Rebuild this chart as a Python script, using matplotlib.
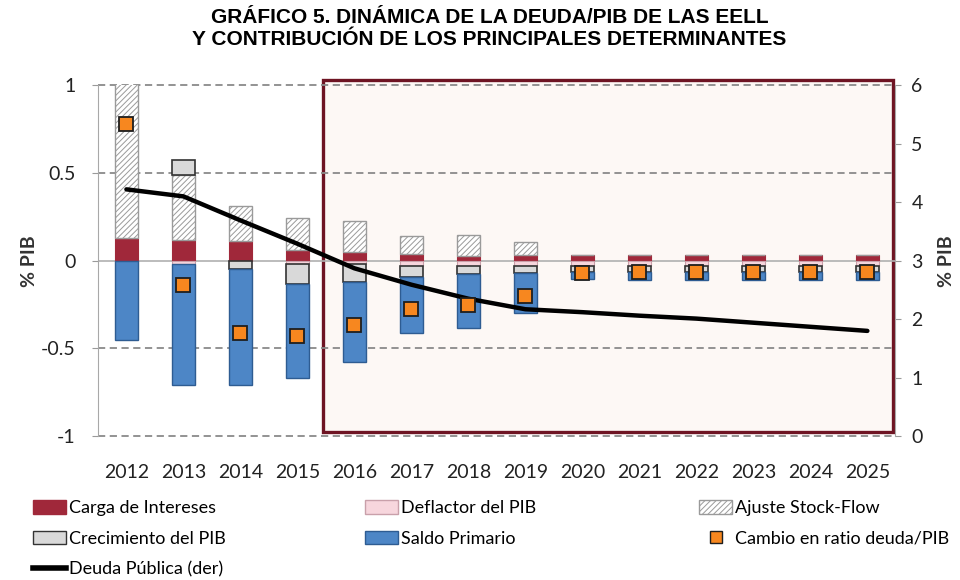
import numpy as np
import matplotlib
matplotlib.use('Agg')
from matplotlib import pyplot as plt
from matplotlib.patches import Patch, Rectangle
from matplotlib.lines import Line2D

YEARS = list(range(2012, 2026))
INTERESES = [0.13, 0.12, 0.11, 0.06, 0.05, 0.04, 0.025, 0.03, 0.035, 0.035, 0.035, 0.035, 0.035, 0.035]
DEFLACTOR = [0.0, -0.02, 0.0, -0.02, -0.02, -0.03, -0.03, -0.03, -0.03, -0.03, -0.03, -0.03, -0.03, -0.03]
STOCK_FLOW = [0.95, 0.37, 0.20, 0.185, 0.175, 0.10, 0.123, 0.077, 0, 0, 0, 0, 0, 0]
CRECIMIENTO = [0.0, 0.085, -0.05, -0.115, -0.10, -0.06, -0.045, -0.04, -0.035, -0.035, -0.035, -0.035, -0.035, -0.035]
SALDO = [-0.45, -0.69, -0.66, -0.535, -0.46, -0.32, -0.31, -0.23, -0.04, -0.045, -0.045, -0.045, -0.045, -0.045]
CAMBIO = [0.78, -0.14, -0.41, -0.43, -0.365, -0.275, -0.255, -0.20, -0.07, -0.063, -0.063, -0.063, -0.063, -0.063]
DEUDA = [4.22, 4.10, 3.69, 3.29, 2.87, 2.59, 2.35, 2.17, 2.12, 2.06, 2.01, 1.94, 1.87, 1.80]

TICK_FONT = 'Lato'
plt.rcParams['font.family'] = [TICK_FONT, 'DejaVu Sans']
plt.rcParams['hatch.linewidth'] = 0.7

fig = plt.figure(figsize=(9.6, 5.8), dpi=100)
ax = fig.add_axes([0.102, 0.248, 0.830, 0.605])
ax2 = ax.twinx()

x = np.array(YEARS, dtype=float)
width = 0.41

# shaded projection box
ax.add_patch(Rectangle((2015.45, -0.975), 10.0, 2.005, facecolor='#FDF8F5',
                       edgecolor='#6E1423', linewidth=2.4, zorder=0.5, clip_on=False))

for yv in [1, 0.5, -0.5, -1]:
    ax.axhline(yv, color='#8A8A8A', linestyle=(0, (4, 2.5)), linewidth=1.3, zorder=1, clip_on=False)
ax.axhline(0, color='#B0B0B0', linewidth=1.2, zorder=1)

series = [
    (INTERESES, dict(facecolor='#A0283A', edgecolor='#A0283A', linewidth=0.8)),
    (DEFLACTOR, dict(facecolor='#F7D6DD', edgecolor='#C9A0AA', linewidth=0.8)),
    (STOCK_FLOW, dict(facecolor='white', edgecolor='#9A9A9A', hatch='//////', linewidth=1.0)),
    (CRECIMIENTO, dict(facecolor='#D9D9D9', edgecolor='#333333', linewidth=1.2)),
    (SALDO, dict(facecolor='#4D86C6', edgecolor='#2E5C92', linewidth=1.0)),
]
pos = np.zeros(len(x))
neg = np.zeros(len(x))
for vals, style in series:
    v = np.array(vals)
    base = np.where(v >= 0, pos, neg)
    ax.bar(x, v, width, bottom=base, zorder=2, **style)
    pos = pos + np.clip(v, 0, None)
    neg = neg + np.clip(v, None, 0)

ax2.plot(x, DEUDA, color='black', linewidth=3.2, solid_capstyle='round', zorder=3)
ax2.plot(x, CAMBIO, linestyle='none', marker='s', markersize=9.5, markerfacecolor='#F7871F',
         markeredgecolor='#1E1E1E', markeredgewidth=1.3, transform=ax.transData, zorder=4)

ax.set_xlim(2011.5, 2025.48)
ax.set_ylim(-1, 1)
ax2.set_ylim(0, 6)

ax.set_xticks(x)
ax.set_xticklabels([str(y) for y in YEARS])
ax.set_yticks([-1, -0.5, 0, 0.5, 1])
ax.set_yticklabels(['-1', '-0.5', '0', '0.5', '1'])
ax2.set_yticks(range(7))

ax.tick_params(axis='x', length=0, pad=20, labelsize=14, labelcolor='#222222')
ax.tick_params(axis='y', length=4, color='#9A9A9A', pad=12, labelsize=14, labelcolor='#222222')
ax2.tick_params(axis='y', length=4, color='#9A9A9A', pad=8, labelsize=14, labelcolor='#222222')

for a in (ax, ax2):
    for s in a.spines.values():
        s.set_visible(False)
ax.spines['left'].set_visible(True)
ax.spines['left'].set_color('#A8A8A8')
ax2.spines['right'].set_visible(True)
ax2.spines['right'].set_color('#A8A8A8')

ax.set_ylabel('% PIB', fontsize=14, color='#333333', fontweight='bold', labelpad=2)
ax2.set_ylabel('% PIB', fontsize=14, color='#333333', fontweight='bold', labelpad=11)

fig.text(0.51, 0.987, 'GRÁFICO 5. DINÁMICA DE LA DEUDA/PIB DE LAS EELL\n'
         'Y CONTRIBUCIÓN DE LOS PRINCIPALES DETERMINANTES',
         ha='center', va='top', fontsize=15, fontweight='bold',
         family='Liberation Sans', linespacing=1.2)

leg_kw = dict(frameon=False, fontsize=13, handlelength=1.85, handleheight=0.8,
              handletextpad=0.15, labelspacing=0.8, borderaxespad=0, borderpad=0)
col1 = [Patch(facecolor='#A0283A', edgecolor='#A0283A'),
        Patch(facecolor='#D9D9D9', edgecolor='#333333'),
        Line2D([], [], color='black', linewidth=4)]
col2 = [Patch(facecolor='#F7D6DD', edgecolor='#C9A0AA'),
        Patch(facecolor='#4D86C6', edgecolor='#2E5C92')]
col3 = [Patch(facecolor='white', edgecolor='#9A9A9A', hatch='//////'),
        Line2D([], [], linestyle='none', marker='s', markersize=8, markerfacecolor='#F7871F',
               markeredgecolor='#1E1E1E')]
l1 = fig.legend(col1, ['Carga de Intereses', 'Crecimiento del PIB', 'Deuda Pública (der)'],
                loc='upper left', bbox_to_anchor=(0.034, 0.138), **leg_kw)
l2 = fig.legend(col2, ['Deflactor del PIB', 'Saldo Primario'],
                loc='upper left', bbox_to_anchor=(0.38, 0.138), **leg_kw)
l3 = fig.legend(col3, ['Ajuste Stock-Flow', 'Cambio en ratio deuda/PIB'],
                loc='upper left', bbox_to_anchor=(0.728, 0.138), **leg_kw)

fig.savefig('out.png', dpi=100)
